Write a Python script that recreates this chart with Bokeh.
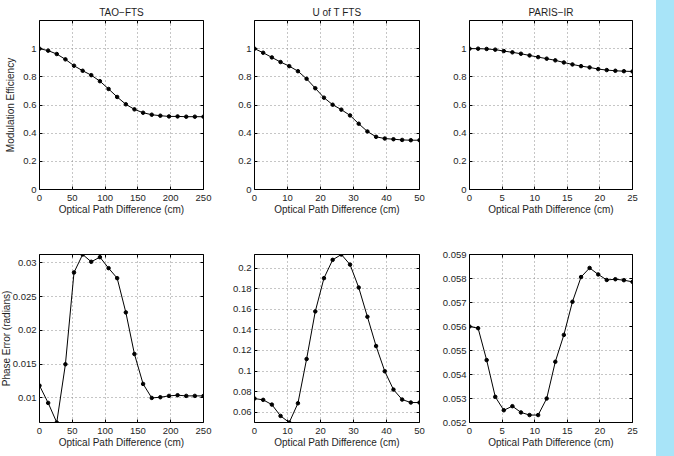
from bokeh.plotting import figure
from bokeh.layouts import row, column
from bokeh.models import Range1d, FixedTicker, CustomJSTickFormatter, Div, LinearAxis
from bokeh.embed import file_html
from bokeh.resources import INLINE

# Optical path difference sample positions (cm) for each instrument
opd_tao = [0, 13.2, 26.3, 39.5, 52.6, 65.8, 78.9, 92.1, 105.3, 118.4,
           131.6, 144.7, 157.9, 171.1, 184.2, 197.4, 210.5, 223.7, 236.8, 250]
opd_uoft = [0, 2.63, 5.26, 7.89, 10.53, 13.16, 15.79, 18.42, 21.05, 23.68,
            26.32, 28.95, 31.58, 34.21, 36.84, 39.47, 42.11, 44.74, 47.37, 50]
opd_paris = [0, 1.32, 2.63, 3.95, 5.26, 6.58, 7.89, 9.21, 10.53, 11.84,
             13.16, 14.47, 15.79, 17.11, 18.42, 19.74, 21.05, 22.37, 23.68, 25]

# Modulation efficiency
eff_tao = [1.0, 0.986, 0.962, 0.924, 0.879, 0.843, 0.812, 0.769, 0.714, 0.657,
           0.605, 0.569, 0.545, 0.531, 0.524, 0.519, 0.519, 0.517, 0.517, 0.517]
eff_uoft = [1.0, 0.971, 0.938, 0.905, 0.876, 0.840, 0.786, 0.719, 0.652, 0.602,
            0.567, 0.526, 0.467, 0.412, 0.374, 0.362, 0.357, 0.352, 0.350, 0.350]
eff_paris = [1.0, 1.0, 0.998, 0.993, 0.983, 0.974, 0.964, 0.952, 0.940, 0.929,
             0.917, 0.902, 0.888, 0.876, 0.867, 0.855, 0.848, 0.843, 0.840, 0.838]

# Phase error (radians)
phase_tao = [0.01182, 0.00926, 0.00636, 0.01498, 0.02857, 0.03123, 0.03015, 0.03084,
             0.02921, 0.02773, 0.02266, 0.01650, 0.01207, 0.01000, 0.01010, 0.01030,
             0.01040, 0.01030, 0.01030, 0.01030]
phase_uoft = [0.0733, 0.0720, 0.0674, 0.0564, 0.0500, 0.0687, 0.1117, 0.1580, 0.1903,
              0.2081, 0.2133, 0.2035, 0.1812, 0.1528, 0.1243, 0.0998, 0.0820, 0.0723,
              0.0694, 0.0694]
phase_paris = [0.05600, 0.05593, 0.05460, 0.05307, 0.05251, 0.05268, 0.05242, 0.05231,
               0.05231, 0.05300, 0.05453, 0.05565, 0.05703, 0.05806, 0.05844, 0.05817,
               0.05794, 0.05797, 0.05793, 0.05786]

titles = ["TAO\u2212FTS", "U of T FTS", "PARIS\u2212IR"]
x_label = "Optical Path Difference (cm)"
eff_label = "Modulation Efficiency"
phase_label = "Phase Error (radians)"

xticks_tao = [0, 50, 100, 150, 200, 250]
xticks_uoft = [0, 10, 20, 30, 40, 50]
xticks_paris = [0, 5, 10, 15, 20, 25]
eff_ticks = [0, 0.2, 0.4, 0.6, 0.8, 1]
phase_ticks_tao = [0.01, 0.015, 0.02, 0.025, 0.03]
phase_ticks_uoft = [0.06, 0.08, 0.1, 0.12, 0.14, 0.16, 0.18, 0.2]
phase_ticks_paris = [0.052, 0.053, 0.054, 0.055, 0.056, 0.057, 0.058, 0.059]

FONT = "Liberation Sans"
TEXT = "#1e1e1e"
fmt_code = "return String(parseFloat(tick.toFixed(6)));"


def style_axis(ax, ticks):
    ax.ticker = FixedTicker(ticks=ticks)
    ax.formatter = CustomJSTickFormatter(code=fmt_code)
    ax.axis_line_color = None
    ax.major_tick_in = 3
    ax.major_tick_out = 0
    ax.major_tick_line_color = "black"
    ax.minor_tick_line_color = None
    ax.major_label_text_font = FONT
    ax.major_label_text_font_size = "9.5px"
    ax.major_label_text_color = TEXT
    ax.major_label_standoff = 3
    ax.axis_label_text_font = FONT
    ax.axis_label_text_font_size = "10px"
    ax.axis_label_text_font_style = "normal"
    ax.axis_label_text_color = TEXT


def box_axis(ticks):
    # tick marks only, for the opposite sides of the box
    ax = LinearAxis()
    style_axis(ax, ticks)
    ax.major_label_text_font_size = "0px"
    ax.major_label_standoff = 0
    ax.major_label_text_alpha = 0
    return ax


def panel(x, y, xr, yr, xticks, yticks, width, height, borders,
          title="", ylabel=None, ylabel_standoff=4, margin=None):
    left, right, top, bottom = borders
    p = figure(width=width, height=height,
               x_range=Range1d(*xr), y_range=Range1d(*yr),
               output_backend="svg", toolbar_location=None,
               min_border_left=left, min_border_right=right,
               min_border_top=top, min_border_bottom=bottom,
               title=title)
    if margin is not None:
        p.margin = margin
    p.title.align = "center"
    p.title.text_font = FONT
    p.title.text_font_size = "10px"
    p.title.text_font_style = "normal"
    p.title.text_color = TEXT
    p.title.standoff = 5
    p.outline_line_color = "black"
    p.outline_line_width = 1
    p.background_fill_color = "white"
    p.border_fill_color = "white"

    style_axis(p.xaxis[0], xticks)
    style_axis(p.yaxis[0], yticks)
    p.xaxis.major_label_standoff = 5
    p.xaxis.axis_label = x_label
    p.xaxis.axis_label_standoff = 0
    if ylabel:
        p.yaxis.axis_label = ylabel
        p.yaxis.axis_label_standoff = ylabel_standoff

    p.add_layout(box_axis(yticks), "right")
    p.add_layout(box_axis(xticks), "above")

    for g in (p.xgrid[0], p.ygrid[0]):
        g.grid_line_color = "#8c8c8c"
        g.grid_line_dash = "1 3"
        g.grid_line_width = 1

    p.line(x, y, line_color="black", line_width=1)
    p.scatter(x, y, marker="circle", size=3.5, color="black")
    return p


top_b = (20, 39)
bot_b = (26, 34)
shift = 8  # the phase panel's y label sits close to the page's left edge

p1 = panel(opd_tao, eff_tao, (0, 250), (0, 1.2), xticks_tao, eff_ticks,
           220, 228, (39, 17) + top_b, title=titles[0], ylabel=eff_label)
p2 = panel(opd_uoft, eff_uoft, (0, 50), (0, 1.2), xticks_uoft, eff_ticks,
           215, 228, (34, 16) + top_b, title=titles[1])
p3 = panel(opd_paris, eff_paris, (0, 25), (0, 1.2), xticks_paris, eff_ticks,
           221, 228, (34, 24) + top_b, title=titles[2])

p4 = panel(opd_tao, phase_tao, (0, 250), (min(phase_tao), max(phase_tao)),
           xticks_tao, phase_ticks_tao, 220 + shift, 228, (39 + shift, 17) + bot_b,
           ylabel=phase_label, ylabel_standoff=-2, margin=(0, 0, 0, -shift))
p5 = panel(opd_uoft, phase_uoft, (0, 50), (min(phase_uoft), max(phase_uoft)),
           xticks_uoft, phase_ticks_uoft, 215, 228, (34, 16) + bot_b)
p6 = panel(opd_paris, phase_paris, (0, 25), (0.052, 0.059),
           xticks_paris, phase_ticks_paris, 221, 228, (34, 24) + bot_b)

strip = Div(text="", width=18, height=456, margin=0,
            styles={"background-color": "#a8e4f8"})

layout = row(column(row(p1, p2, p3, spacing=0), row(p4, p5, p6, spacing=0), spacing=0),
             strip, spacing=0)

open("out.html", "w").write(file_html(layout, INLINE))
